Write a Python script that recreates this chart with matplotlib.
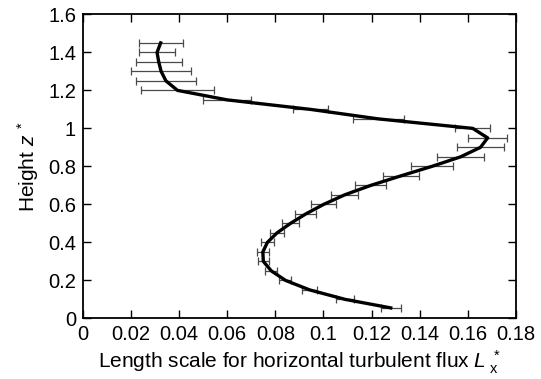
import numpy as np
import matplotlib.pyplot as plt

# Profile of the horizontal-flux length scale with height (both non-dimensional)
height = [1.45, 1.40, 1.35, 1.30, 1.25, 1.20, 1.15, 1.10, 1.05, 1.00,
          0.95, 0.90, 0.85, 0.80, 0.75, 0.70, 0.65, 0.60, 0.55, 0.50,
          0.45, 0.40, 0.35, 0.30, 0.25, 0.20, 0.15, 0.10, 0.055]
length_scale = [0.0323, 0.0308, 0.0315, 0.0325, 0.0345, 0.0393, 0.0600, 0.0946, 0.1228, 0.1621,
                0.1683, 0.1653, 0.1570, 0.1451, 0.1322, 0.1197, 0.1088, 0.1001, 0.0927, 0.0863,
                0.0807, 0.0767, 0.0748, 0.0750, 0.0783, 0.0842, 0.0942, 0.1090, 0.1280]
spread = [0.0092, 0.0075, 0.0095, 0.0126, 0.0126, 0.0150, 0.0100, 0.0073, 0.0107, 0.0072,
          0.0081, 0.0099, 0.0097, 0.0086, 0.0075, 0.0064, 0.0056, 0.0053, 0.0044, 0.0034,
          0.0028, 0.0026, 0.0024, 0.0022, 0.0024, 0.0025, 0.0031, 0.0037, 0.0042]

xticks = [0, 0.02, 0.04, 0.06, 0.08, 0.1, 0.12, 0.14, 0.16, 0.18]
xtick_labels = ['0', '0.02', '0.04', '0.06', '0.08', '0.1', '0.12', '0.14', '0.16', '0.18']
yticks = [0, 0.2, 0.4, 0.6, 0.8, 1.0, 1.2, 1.4, 1.6]
ytick_labels = ['0', '0.2', '0.4', '0.6', '0.8', '1', '1.2', '1.4', '1.6']

plt.rcParams['font.family'] = ['Liberation Sans', 'DejaVu Sans']
plt.rcParams['mathtext.fontset'] = 'custom'
plt.rcParams['mathtext.rm'] = 'Liberation Sans'
plt.rcParams['mathtext.it'] = 'Liberation Sans:italic'

fig = plt.figure(figsize=(5.41, 3.79), dpi=100)
ax = fig.add_axes([0.1534, 0.160, 0.800, 0.802])

ax.errorbar(length_scale, height, xerr=spread, fmt='none', ecolor='#4a4a4a',
            elinewidth=0.9, capsize=3.0, capthick=0.9, zorder=2)
ax.plot(length_scale, height, color='black', linewidth=2.4, zorder=3)

ax.set_xlim(0, 0.18)
ax.set_ylim(0, 1.6)
ax.set_xticks(xticks)
ax.set_xticklabels(xtick_labels)
ax.set_yticks(yticks)
ax.set_yticklabels(ytick_labels)
ax.tick_params(direction='in', length=6, width=1, labelsize=14.5,
               top=True, right=True, pad=5)
for s in ax.spines.values():
    s.set_linewidth(1.3)

ax.set_xlabel(r'Length scale for horizontal turbulent flux $L^{\ *}_{\ \mathrm{x}}$',
              fontsize=15, labelpad=3)
ax.set_ylabel(r'Height $z^{\ *}$', fontsize=15, labelpad=5)

fig.savefig('out.png', dpi=100)
